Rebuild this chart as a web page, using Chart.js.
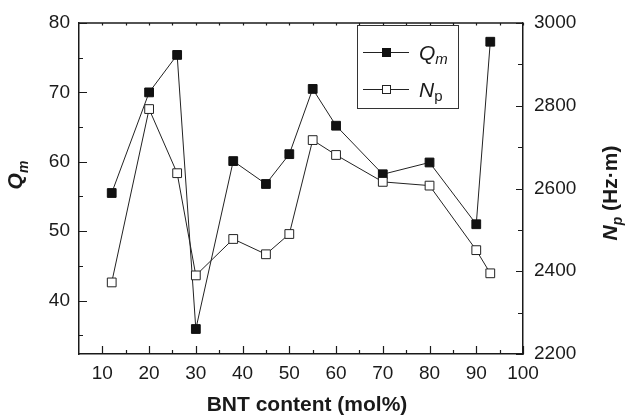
<!DOCTYPE html>
<html lang="en">
<head>
<meta charset="UTF-8">
<title>Qm and Np vs BNT content</title>
<style>
    body {
        margin: 0;
        background: #fff;
    }
    #wrap {
        width: 625px;
        height: 415px;
    }
</style>
</head>
<body>
<div id="wrap">
    <canvas id="chart" width="625" height="415"></canvas>
</div>
<script src="https://cdn.jsdelivr.net/npm/chart.js"></script>
<script>
    // BNT content (mol%)
    const bntContent = [12, 20, 26, 30, 38, 45, 50, 55, 60, 70, 80, 90, 93];
    // mechanical quality factor Qm (left axis)
    const qmValues = [55.5, 70.0, 75.4, 35.9, 60.1, 56.8, 61.1, 70.5, 65.2, 58.2, 59.9, 51.0, 77.3];
    // frequency constant Np in Hz·m (right axis)
    const npValues = [2373, 2792, 2637, 2390, 2478, 2441, 2490, 2717, 2681, 2616, 2607, 2451, 2395];

    const xTicks = [10, 20, 30, 40, 50, 60, 70, 80, 90, 100];
    const xMinorTicks = [15, 25, 35, 45, 55, 65, 75, 85, 95];
    const qmTicks = [40, 50, 60, 70, 80];
    const qmMinorTicks = [35, 45, 55, 65, 75];
    const npTicks = [2200, 2400, 2600, 2800, 3000];
    const npMinorTicks = [2300, 2500, 2700, 2900];

    const FONT = "'Liberation Sans', Arial, sans-serif";
    const INK = '#1a1a1a';

    function toPoints(ys) {
        return bntContent.map((x, i) => ({ x: x, y: ys[i] }));
    }

    // draws main text + subscript (+ optional tail) from baseline (x, y)
    function drawSubText(ctx, main, sub, x, y, mainFont, subFont, subDrop, tail, tailFont) {
        ctx.font = mainFont;
        ctx.fillText(main, x, y);
        x += ctx.measureText(main).width;
        ctx.font = subFont;
        ctx.fillText(sub, x, y + subDrop);
        x += ctx.measureText(sub).width;
        if (tail) {
            ctx.font = tailFont;
            ctx.fillText(tail, x, y);
            x += ctx.measureText(tail).width;
        }
        return x;
    }

    function subTextWidth(ctx, main, sub, mainFont, subFont, tail, tailFont) {
        ctx.font = mainFont;
        let w = ctx.measureText(main).width;
        ctx.font = subFont;
        w += ctx.measureText(sub).width;
        if (tail) {
            ctx.font = tailFont;
            w += ctx.measureText(tail).width;
        }
        return w;
    }

    const framePlugin = {
        id: 'frame',
        afterDraw(chart) {
            const ctx = chart.ctx;
            const area = chart.chartArea;
            const xs = chart.scales.x;
            const ys = chart.scales.y;
            const ys2 = chart.scales.y2;

            ctx.save();
            ctx.strokeStyle = INK;
            ctx.lineWidth = 1.5;

            // top border
            ctx.beginPath();
            ctx.moveTo(area.left, area.top);
            ctx.lineTo(area.right, area.top);
            ctx.stroke();

            ctx.lineWidth = 1.2;
            ctx.beginPath();
            // x ticks, pointing inward
            xTicks.concat(xMinorTicks).forEach(v => {
                const px = Math.round(xs.getPixelForValue(v)) + 0.5;
                const len = xTicks.includes(v) ? 8 : 4;
                ctx.moveTo(px, area.bottom);
                ctx.lineTo(px, area.bottom - len);
                ctx.moveTo(px, area.top);
                ctx.lineTo(px, area.top + 2.5);
            });
            // left axis ticks
            qmTicks.concat(qmMinorTicks).forEach(v => {
                const py = Math.round(ys.getPixelForValue(v)) + 0.5;
                const len = qmTicks.includes(v) ? 8 : 4;
                ctx.moveTo(area.left, py);
                ctx.lineTo(area.left + len, py);
            });
            // right axis ticks
            npTicks.concat(npMinorTicks).forEach(v => {
                const py = Math.round(ys2.getPixelForValue(v)) + 0.5;
                const len = npTicks.includes(v) ? 7 : 5;
                ctx.moveTo(area.right, py);
                ctx.lineTo(area.right - len, py);
            });
            ctx.stroke();

            ctx.fillStyle = INK;
            ctx.textBaseline = 'alphabetic';
            ctx.textAlign = 'left';

            // x axis title
            ctx.font = 'bold 21px ' + FONT;
            ctx.textAlign = 'center';
            ctx.fillText('BNT content (mol%)', 307, 411);
            ctx.textAlign = 'left';

            // left axis title: Q_m
            const tMain = 'bold italic 21px ' + FONT;
            const tSub = 'bold italic 14px ' + FONT;
            ctx.save();
            ctx.translate(22, 175);
            ctx.rotate(-Math.PI / 2);
            let w = subTextWidth(ctx, 'Q', 'm', tMain, tSub);
            drawSubText(ctx, 'Q', 'm', -w / 2, 0, tMain, tSub, 6);
            ctx.restore();

            // right axis title: N_p (Hz·m)
            const rTail = 'bold 21px ' + FONT;
            ctx.save();
            ctx.translate(617, 193);
            ctx.rotate(-Math.PI / 2);
            w = subTextWidth(ctx, 'N', 'p', tMain, tSub, ' (Hz·m)', rTail);
            drawSubText(ctx, 'N', 'p', -w / 2, 0, tMain, tSub, 5, ' (Hz·m)', rTail);
            ctx.restore();

            // legend box
            const lx = 357.5, ly = 25.5, lw = 101, lh = 83;
            ctx.lineWidth = 1;
            ctx.strokeStyle = '#333';
            ctx.fillStyle = '#fff';
            ctx.fillRect(lx, ly, lw, lh);
            ctx.strokeRect(lx, ly, lw, lh);

            const rows = [
                { ds: chart.data.datasets[0], y: 52, main: 'Q', sub: 'm', subFont: 'italic 15px ' + FONT },
                { ds: chart.data.datasets[1], y: 89, main: 'N', sub: 'p', subFont: '15px ' + FONT }
            ];
            rows.forEach(r => {
                ctx.strokeStyle = r.ds.borderColor;
                ctx.lineWidth = 1;
                ctx.beginPath();
                ctx.moveTo(363, r.y + 0.5);
                ctx.lineTo(409, r.y + 0.5);
                ctx.stroke();
                ctx.fillStyle = r.ds.pointBackgroundColor;
                ctx.strokeStyle = r.ds.pointBorderColor;
                ctx.fillRect(382.5, r.y - 3.5, 8, 8);
                ctx.strokeRect(382.5, r.y - 3.5, 8, 8);
                ctx.fillStyle = INK;
                drawSubText(ctx, r.main, r.sub, 419, r.y + 7.5, 'italic 21px ' + FONT, r.subFont, 4);
            });

            ctx.restore();
        }
    };

    const ctx = document.getElementById('chart').getContext('2d');

    const chart = new Chart(ctx, {
        type: 'line',
        data: {
            datasets: [
                {
                    label: 'Qm',
                    data: toPoints(qmValues),
                    yAxisID: 'y',
                    borderColor: '#222',
                    borderWidth: 1,
                    pointStyle: 'rect',
                    pointRadius: 6.2,
                    pointBackgroundColor: '#111',
                    pointBorderColor: '#111',
                    pointBorderWidth: 1,
                    tension: 0,
                    order: 2
                },
                {
                    label: 'Np',
                    data: toPoints(npValues),
                    yAxisID: 'y2',
                    borderColor: '#222',
                    borderWidth: 1,
                    pointStyle: 'rect',
                    pointRadius: 6.2,
                    pointBackgroundColor: '#fff',
                    pointBorderColor: '#222',
                    pointBorderWidth: 1,
                    tension: 0,
                    order: 1
                }
            ]
        },
        options: {
            responsive: false,
            animation: false,
            devicePixelRatio: 1,
            layout: {
                padding: { top: 23, left: 0, right: 0, bottom: 0 }
            },
            plugins: {
                legend: { display: false },
                tooltip: { enabled: false }
            },
            scales: {
                x: {
                    type: 'linear',
                    position: 'bottom',
                    min: 5,
                    max: 100,
                    afterBuildTicks: s => { s.ticks = xTicks.map(v => ({ value: v })); },
                    afterFit: s => { s.height = 61; },
                    grid: { display: false, drawTicks: false },
                    border: { display: true, color: INK, width: 1.5 },
                    ticks: {
                        padding: 8,
                        color: INK,
                        maxRotation: 0,
                        callback: v => String(v),
                        font: { family: FONT, size: 19 }
                    }
                },
                y: {
                    type: 'linear',
                    position: 'left',
                    min: 32.3,
                    max: 80,
                    afterBuildTicks: s => { s.ticks = qmTicks.map(v => ({ value: v })); },
                    afterFit: s => { s.width = 79; },
                    grid: { display: false, drawTicks: false },
                    border: { display: true, color: INK, width: 1.5 },
                    ticks: {
                        padding: 9,
                        color: INK,
                        callback: v => String(v),
                        font: { family: FONT, size: 19 }
                    }
                },
                y2: {
                    type: 'linear',
                    position: 'right',
                    min: 2200,
                    max: 3000,
                    afterBuildTicks: s => { s.ticks = npTicks.map(v => ({ value: v })); },
                    afterFit: s => { s.width = 102; },
                    grid: { display: false, drawTicks: false },
                    border: { display: true, color: INK, width: 1.5 },
                    ticks: {
                        padding: 11,
                        color: INK,
                        callback: v => String(v),
                        font: { family: FONT, size: 19 }
                    }
                }
            }
        },
        plugins: [framePlugin]
    });
</script>
</body>
</html>
